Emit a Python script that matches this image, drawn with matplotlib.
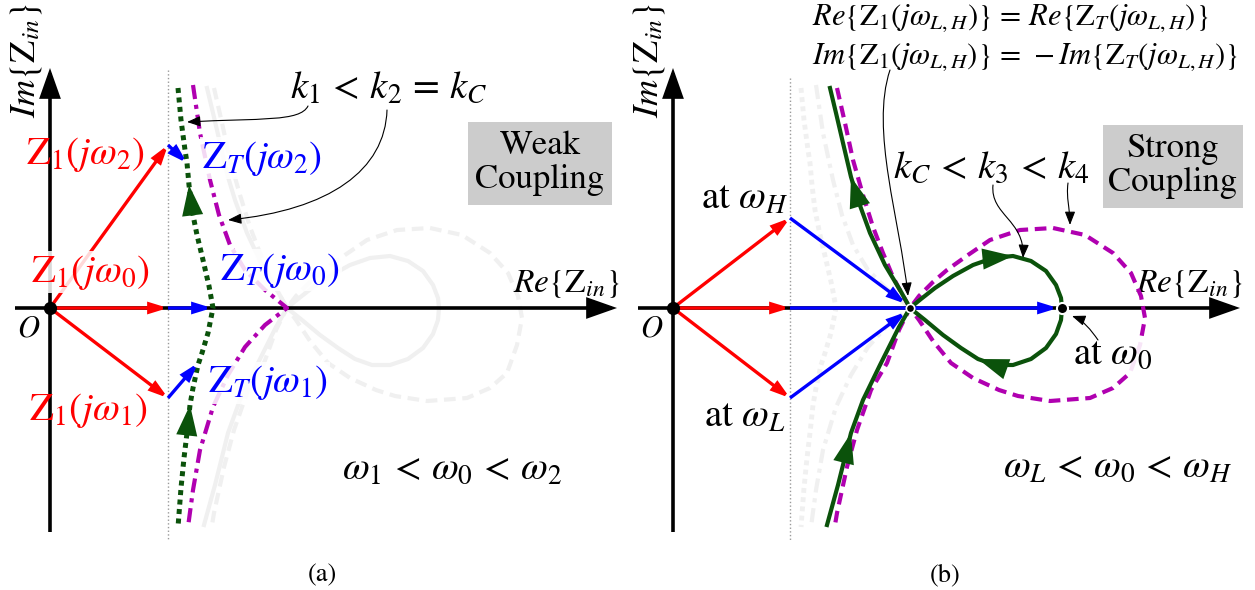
import matplotlib
matplotlib.use('Agg')
import matplotlib.pyplot as plt
from matplotlib.patches import FancyArrowPatch, Rectangle
from matplotlib.path import Path

plt.rcParams['mathtext.fontset'] = 'stix'
plt.rcParams['font.family'] = ['STIXGeneral', 'DejaVu Serif']

# ---------------- data (panel coordinates: origin O, x = Re, y = Im) ----------------
# weak coupling, k1 (green dotted), listed from top to bottom
k1_re = [128, 131, 135, 137, 139, 142, 147, 153, 159, 163, 158, 152, 148, 143, 140, 137, 134, 131, 128]
k1_im = [220, 188, 158, 145, 123, 98, 73, 48, 22, 0, -25, -45, -57, -80, -97, -125, -150, -180, -219]
k1_arrows = [(5, 4), (15, 14)]          # (tail index, tip index)
# weak coupling, k2 = kC (magenta dash-dot)
kc_re = [143, 150, 160, 169, 180, 195, 215, 237, 215, 195, 178, 163, 150, 143, 138]
kc_im = [223, 175, 128, 93, 63, 38, 18, 0, -17, -39, -67, -99, -142, -182, -219]
# strong coupling, k3 (green solid), in travel order
k3_re = [154, 165, 178, 190, 207, 226, 237,
         248, 262, 280, 300, 320, 340, 358, 373, 383, 388, 389,
         388, 383, 373, 358, 340, 322, 305, 288, 270, 252, 237,
         227, 212, 197, 185, 178, 170, 163, 157]
k3_im = [-217, -177, -125, -92, -57, -19, 0,
         9, 20, 32, 43, 50, 52, 47, 37, 23, 10, 0,
         -12, -26, -40, -51, -57, -57, -51, -40, -27, -12, 0,
         18, 43, 75, 108, 131, 165, 195, 220]
k3_arrows = [(1, 2), (11, 12), (23, 24), (32, 33)]
# strong coupling, k4 (magenta dashed)
k4_re = [164, 172, 180, 190, 200, 210, 220, 229, 237,
         246, 260, 274, 295, 317, 347, 380, 412, 440, 458, 468, 472, 467, 457, 440, 417,
         377, 345, 326, 300, 278, 260, 246, 237,
         226, 214, 198, 184, 174, 164, 162]
k4_im = [220, 185, 148, 113, 81, 55, 31, 14, 0,
         12, 26, 38, 53, 68, 78, 80, 73, 55, 35, 12, -10, -37, -65, -80, -90,
         -93, -88, -82, -70, -55, -33, -12, 0,
         -22, -55, -82, -122, -159, -205, -217]

# phasors, weak coupling: omega_2, omega_0, omega_1
weak_z1_re = [118, 118, 118]
weak_z1_im = [163, 0, -90]
weak_zt_re = [137, 162, 148]
weak_zt_im = [145, 0, -55]
# phasors, strong coupling: omega_H, omega_0, omega_L
strong_z1_re = [117, 117, 117]
strong_z1_im = [90, 0, -90]
strong_zt_re = [233, 385, 233]
strong_zt_im = [4, 0, -4]
cross_pt = (237, 0)
omega0_pt = (389, 0)

RED = '#ff0000'
BLUE = '#0000ff'
GREEN = '#0b520b'
MAG = '#b000b0'
GHOST = '#f0f0f0'

fig = plt.figure(figsize=(12.55, 5.9), dpi=100)
axL = fig.add_axes([0, 0, 627 / 1255, 1])
axR = fig.add_axes([627 / 1255, 0, 628 / 1255, 1])
axL.set_xlim(-50, 577)
axR.set_xlim(-46, 582)
for ax in (axL, axR):
    ax.set_ylim(-282, 308)
    ax.axis('off')

DOT = (0, (1.0, 0.9))
DASHDOT = (0, (3.4, 1.4, 1.0, 1.4))
DASH = (0, (2.8, 1.6))
FS = 28


def arrow(ax, p0, p1, color, lw=2.4, hl=0.65, hw=0.2, ms=15, z=5):
    ax.add_patch(FancyArrowPatch(p0, p1, arrowstyle=f'-|>,head_length={hl},head_width={hw}',
                                 mutation_scale=ms, color=color, lw=lw, shrinkA=0, shrinkB=0,
                                 zorder=z, joinstyle='miter', capstyle='butt'))


def head(ax, xs, ys, idx, color):
    for a, b in idx:
        ax.add_patch(FancyArrowPatch((xs[a], ys[a]), (xs[b], ys[b]),
                                     arrowstyle='-|>,head_length=1.1,head_width=0.38',
                                     mutation_scale=20, color=color, lw=0, shrinkA=0, shrinkB=0, zorder=7))


def curved(ax, pts, ms=9):
    codes = [Path.MOVETO, Path.CURVE4, Path.CURVE4, Path.CURVE4]
    ax.add_patch(FancyArrowPatch(path=Path(pts, codes), arrowstyle='-|>,head_length=0.9,head_width=0.35',
                                 mutation_scale=ms, color='k', lw=0.8, zorder=8))


def axes_frame(ax, vline_top):
    ax.plot([118 if ax is axL else 117] * 2, [vline_top, -232], color='#9a9a9a', lw=1, ls=':', zorder=1)
    arrow(ax, (0, -224), (0, 240), 'k', lw=2.6, hl=0.85, hw=0.3, ms=20, z=3)
    arrow(ax, (-35, 0), (567, 0), 'k', lw=2.6, hl=0.85, hw=0.3, ms=20, z=3)
    ax.plot([0], [0], 'o', color='k', ms=8.5, zorder=9)
    ax.text(-21, -22, r'$O$', fontsize=22, ha='center', va='center')
    ax.text(517, 24, r'$Re\{\mathrm{Z}_{in}\}$', fontsize=24, ha='center', va='center')
    ax.text(-24, 248, r'$Im\{\mathrm{Z}_{in}\}$', fontsize=26, ha='center', va='center', rotation=90)


# ---------------- ghosts ----------------
axL.plot(k3_re, k3_im, color=GHOST, lw=3, zorder=2)
axL.plot(k4_re, k4_im, color=GHOST, lw=3, ls=DASH, zorder=2)
axR.plot(k1_re, k1_im, color=GHOST, lw=3.5, ls=DOT, zorder=2)
axR.plot(kc_re, kc_im, color=GHOST, lw=3, ls=DASHDOT, zorder=2)

wb = dict(boxstyle='square,pad=0.05', fc='white', ec='none', alpha=0.85)

# ---------------- panel (a) ----------------
axes_frame(axL, 238)
axL.plot(k1_re, k1_im, color=GREEN, lw=3.6, ls=DOT, zorder=4)
axL.plot(kc_re, kc_im, color=MAG, lw=3, ls=DASHDOT, zorder=4)
head(axL, k1_re, k1_im, k1_arrows, GREEN)
for i in range(3):
    arrow(axL, (0, 0), (weak_z1_re[i], weak_z1_im[i]), RED)
    arrow(axL, (weak_z1_re[i], weak_z1_im[i]), (weak_zt_re[i], weak_zt_im[i]), BLUE, z=6)

axL.text(35, 153, r'$\mathrm{Z}_1(j\omega_2)$', color=RED, fontsize=FS, ha='center', va='center', zorder=6)
axL.text(40, 36, r'$\mathrm{Z}_1(j\omega_0)$', color=RED, fontsize=FS, ha='center', va='center', bbox=wb, zorder=6)
axL.text(38, -102, r'$\mathrm{Z}_1(j\omega_1)$', color=RED, fontsize=FS, ha='center', va='center', zorder=6)
axL.text(212, 150, r'$\mathrm{Z}_T(j\omega_2)$', color=BLUE, fontsize=FS, ha='center', va='center', bbox=wb, zorder=6)
axL.text(230, 38, r'$\mathrm{Z}_T(j\omega_0)$', color=BLUE, fontsize=FS, ha='center', va='center', bbox=wb, zorder=6)
axL.text(218, -75, r'$\mathrm{Z}_T(j\omega_1)$', color=BLUE, fontsize=FS, ha='center', va='center', bbox=wb, zorder=6)
axL.text(339, 220, r'$k_1\,<\,k_2\,=\,k_C$', fontsize=FS, ha='center', va='center')
axL.text(402, -162, r'$\omega_1\,<\,\omega_0\,<\,\omega_2$', fontsize=FS, ha='center', va='center')
axL.add_patch(Rectangle((418, 103), 144, 83, fc='#cccccc', ec='none', zorder=1))
axL.text(490, 145, 'Weak\nCoupling', fontsize=25, ha='center', va='center', linespacing=1.05)
axL.text(272, -267, '(a)', fontsize=19, ha='center', va='center')
curved(axL, [(258, 202), (250, 186), (210, 190), (137, 186)])
curved(axL, [(337, 198), (335, 138), (280, 98), (178, 88)])

# ---------------- panel (b) ----------------
axes_frame(axR, 230)
axR.plot(k4_re, k4_im, color=MAG, lw=3, ls=DASH, zorder=4)
axR.plot(k3_re, k3_im, color=GREEN, lw=3, zorder=4)
head(axR, k3_re, k3_im, k3_arrows, GREEN)
for i in range(3):
    arrow(axR, (0, 0), (strong_z1_re[i], strong_z1_im[i]), RED)
    arrow(axR, (strong_z1_re[i], strong_z1_im[i]), (strong_zt_re[i], strong_zt_im[i]), BLUE, z=6)
axR.plot(*cross_pt, 'o', color='k', ms=6, mec='white', mew=1.2, zorder=9)
axR.plot(*omega0_pt, 'o', color='k', ms=8, mec='white', mew=1.5, zorder=9)

axR.text(72, 108, r'at $\omega_H$', fontsize=FS, ha='center', va='center')
axR.text(72, -110, r'at $\omega_L$', fontsize=FS, ha='center', va='center')
axR.text(440, -47, r'at $\omega_0$', fontsize=FS, ha='center', va='center',
         bbox=dict(boxstyle='square,pad=0.02', fc='white', ec='none', alpha=0.9), zorder=6)
axR.text(139, 290, r'$Re\{\mathrm{Z}_1(j\omega_{L,H})\}\,=\,Re\{\mathrm{Z}_T(j\omega_{L,H})\}$',
         fontsize=22, ha='left', va='center')
axR.text(139, 251, r'$Im\{\mathrm{Z}_1(j\omega_{L,H})\}\,=\,-Im\{\mathrm{Z}_T(j\omega_{L,H})\}$',
         fontsize=22, ha='left', va='center')
axR.text(318, 140, r'$k_C\,<\,k_3\,<\,k_4$', fontsize=FS, ha='center', va='center')
axR.text(445, -160, r'$\omega_L\,<\,\omega_0\,<\,\omega_H$', fontsize=FS, ha='center', va='center')
axR.add_patch(Rectangle((430, 100), 140, 83, fc='#cccccc', ec='none', zorder=1))
axR.text(500, 142, 'Strong\nCoupling', fontsize=25, ha='center', va='center', linespacing=1.05)
axR.text(272, -267, '(b)', fontsize=19, ha='center', va='center')
curved(axR, [(217, 238), (197, 178), (227, 88), (235, 12)])
curved(axR, [(320, 123), (317, 93), (352, 88), (350, 50)])
curved(axR, [(395, 125), (393, 110), (397, 100), (397, 83)])
curved(axR, [(425, -32), (418, -22), (410, -12), (399, -8)])

fig.savefig('out.png', dpi=100)
